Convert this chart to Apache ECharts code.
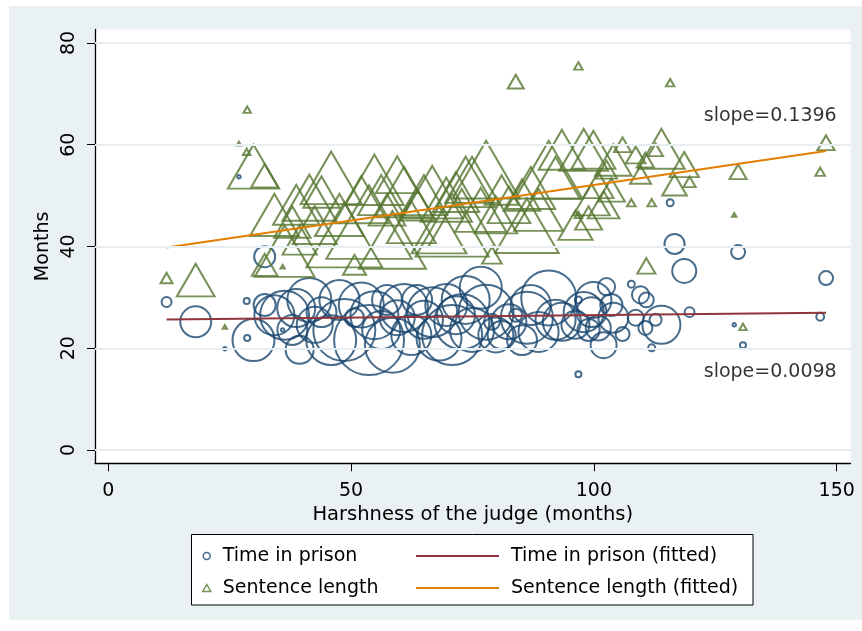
<!DOCTYPE html>
<html>
<head>
<meta charset="utf-8">
<script src="https://cdn.jsdelivr.net/npm/echarts@6/dist/echarts.min.js"></script>
<style>
  html, body { margin: 0; padding: 0; background: #ffffff; }
  #chart { width: 862px; height: 631px; }
</style>
</head>
<body>
<div id="chart"></div>
<script>
// One entry per judge: harshness (months), mean time in prison, mean sentence length, number of cases
const harshness = [
  12.0, 18.0, 24.0, 26.9, 28.5, 28.6, 29.9, 32.2, 32.2, 34.2,
  35.9, 36.3, 37.9, 38.7, 39.4, 41.4, 42.5, 43.9, 45.9, 47.6, 48.6,
  50.7, 52.1, 53.7, 54.8, 56.2, 57.4, 58.5, 59.5, 60.9, 62.4,
  63.6, 65.0, 66.7, 68.1, 69.6, 70.8, 71.6, 72.8, 73.6, 74.9,
  76.7, 77.8, 79.0, 79.8, 81.0, 82.5, 83.9, 85.2, 86.2, 87.0,
  88.6, 90.7, 92.1, 93.4, 96.2, 96.8, 96.8, 97.9, 98.9, 99.5,
  99.9, 100.9, 102.0, 102.6, 103.6, 104.0, 105.9, 107.7, 108.6, 109.6,
  110.6, 110.8, 111.9, 112.7, 113.9, 115.7, 116.6, 118.6, 119.7, 128.9,
  129.7, 130.7, 146.6, 147.8
];
const prisonMonths = [
  29.1, 25.2, 19.9, 53.7, 29.3, 22.0, 21.6, 38.0, 28.5, 26.5,
  23.6, 26.5, 23.6, 27.9, 19.7, 29.5, 24.6, 27.1, 21.6, 29.5, 23.6,
  26.0, 28.5, 21.6, 26.5, 23.6, 29.5, 20.6, 26.0, 27.9, 22.6,
  29.5, 25.6, 27.1, 22.0, 28.5, 22.6, 26.5, 25.2, 29.5, 23.6,
  31.9, 27.1, 25.2, 22.6, 22.6, 25.2, 26.5, 21.6, 26.0, 28.5,
  23.2, 29.9, 25.6, 25.2, 24.6, 29.5, 14.9, 27.1, 23.6, 27.1,
  29.5, 24.0, 20.6, 32.1, 28.5, 26.0, 22.8, 32.6, 26.0, 30.5,
  24.0, 29.5, 20.1, 25.6, 24.6, 48.6, 40.5, 35.2, 27.1, 24.6,
  38.9, 20.6, 26.2, 33.8
];
const sentenceMonths = [
  33.8, 33.4, 24.2, 60.2, 58.6, 66.9, 55.7, 36.4, 53.9, 46.2,
  36.0, 39.1, 44.8, 48.2, 41.3, 49.6, 44.2, 50.7, 53.5, 46.2, 42.3,
  36.4, 49.2, 44.8, 53.1, 50.1, 47.2, 41.3, 54.1, 50.7, 44.8,
  48.2, 50.1, 50.7, 43.3, 49.2, 44.2, 50.7, 45.6, 52.7, 53.1,
  47.2, 55.1, 38.3, 46.2, 51.1, 48.2, 72.4, 50.1, 44.1, 51.5,
  47.2, 55.1, 53.5, 59.0, 44.2, 75.5, 46.2, 59.0, 45.6, 49.2,
  59.0, 52.1, 48.2, 55.1, 51.1, 57.0, 60.0, 48.6, 58.0, 54.1,
  57.0, 36.2, 48.6, 59.0, 59.2, 72.2, 52.1, 56.1, 52.7, 46.2,
  54.7, 24.2, 54.7, 60.4
];
const cases = [
  8, 78, 1, 1, 3, 3, 144, 36, 40, 131,
  1, 196, 73, 118, 64, 158, 106, 73, 204, 131, 314,
  29, 165, 400, 188, 118, 73, 247, 100, 188, 131,
  73, 118, 204, 165, 144, 294, 118, 247, 188, 158,
  144, 247, 21, 100, 64, 100, 14, 73, 221, 131,
  131, 247, 131, 118, 64, 4, 3, 131, 40, 73,
  106, 51, 55, 24, 40, 73, 16, 4, 21, 24,
  16, 18, 4, 12, 118, 4, 33, 47, 8, 1,
  16, 3, 5, 16
];

const xTicks = [0, 50, 100, 150];
const yTicks = [0, 20, 40, 60, 80];

// Linear fits (intercept, slope) shown on the plot
const prisonFit = { intercept: 25.55, slope: 0.0098 };
const sentenceFit = { intercept: 38.15, slope: 0.1396 };
// Anchor (right end) of each slope note, in data units
const sentenceNoteAt = [150, 65.7];
const prisonNoteAt = [150, 15.3];

const NAVY = '#1a476f', GREEN = '#55752f', MAROON = '#90353b', ORANGE = '#e37e00';
const FONT = 'DejaVu Sans';

// marker diameter grows with the square root of the case count
const diameter = n => 3.5 * Math.sqrt(n);

const prisonPts = harshness.map((x, i) => [x, prisonMonths[i], cases[i]]);
const sentencePts = harshness.map((x, i) => [x, sentenceMonths[i], cases[i]]);

const xLo = Math.min(...harshness), xHi = Math.max(...harshness);
const fitLine = f => [[xLo, f.intercept + f.slope * xLo], [xHi, f.intercept + f.slope * xHi]];

const chart = echarts.init(document.getElementById('chart'), null, { renderer: 'canvas' });

chart.setOption({
  animation: false,
  textStyle: { fontFamily: FONT },
  graphic: [
    { type: 'rect', z: -10, shape: { x: 9, y: 6, width: 853, height: 614 },
      style: { fill: '#EAF1F3' }, silent: true },
    { type: 'rect', z: 1, shape: { x: 191.5, y: 534.5, width: 561.5, height: 70.5 },
      style: { fill: '#ffffff', stroke: '#000000', lineWidth: 1 }, silent: true }
  ],
  grid: {
    left: 95, right: 11.5, top: 29.5, bottom: 167.7,
    show: true, backgroundColor: '#ffffff', borderWidth: 0
  },
  xAxis: {
    type: 'value', min: -2.74, max: 152.84,
    name: 'Harshness of the judge (months)', nameLocation: 'middle', nameGap: 34,
    nameTextStyle: { fontFamily: FONT, fontSize: 19.5, color: '#000' },
    axisLine: { show: true, onZero: false, lineStyle: { color: '#000', width: 1.3 } },
    axisTick: { show: true, length: 8, customValues: xTicks, lineStyle: { color: '#000', width: 1 } },
    axisLabel: { customValues: xTicks, margin: 18, fontFamily: FONT, fontSize: 19, color: '#000' },
    splitLine: { show: false }
  },
  yAxis: {
    type: 'value', min: -2.61, max: 82.65,
    name: 'Months', nameLocation: 'middle', nameGap: 32,
    nameTextStyle: { fontFamily: FONT, fontSize: 19, color: '#000' },
    axisLine: { show: true, onZero: false, lineStyle: { color: '#000', width: 1.3 } },
    axisTick: { show: true, length: 8, customValues: yTicks, lineStyle: { color: '#000', width: 1 } },
    axisLabel: { customValues: yTicks, rotate: 90, margin: 16, align: 'center', verticalAlign: 'bottom',
                 fontFamily: FONT, fontSize: 19, color: '#000' },
    splitLine: { show: false }
  },
  legend: [
    {
      orient: 'vertical', left: 197, top: 541, itemWidth: 8, itemHeight: 7, itemGap: 12,
      selectedMode: false,
      textStyle: { fontFamily: FONT, fontSize: 19, color: '#000', lineHeight: 20, padding: [0, 0, 0, 7] },
      data: [
        { name: 'Time in prison', icon: 'circle',
          itemStyle: { color: 'rgba(0,0,0,0)', borderColor: NAVY, borderWidth: 1.5 } },
        { name: 'Sentence length', icon: 'triangle',
          itemStyle: { color: 'rgba(0,0,0,0)', borderColor: GREEN, borderWidth: 1.5 } }
      ]
    },
    {
      orient: 'vertical', left: 411, top: 541, itemWidth: 83, itemHeight: 2, itemGap: 12,
      selectedMode: false,
      textStyle: { fontFamily: FONT, fontSize: 19, color: '#000', lineHeight: 20, padding: [0, 0, 0, 7] },
      data: [
        { name: 'Time in prison (fitted)', icon: 'rect', itemStyle: { color: MAROON } },
        { name: 'Sentence length (fitted)', icon: 'rect', itemStyle: { color: ORANGE } }
      ]
    }
  ],
  series: [
    {
      name: 'gridlines', type: 'line', data: [], silent: true, z: 1,
      markLine: {
        silent: true, symbol: ['none', 'none'], label: { show: false },
        lineStyle: { color: '#E6EEF1', width: 2, type: 'solid' },
        data: yTicks.map(v => ({ yAxis: v }))
      }
    },
    {
      name: 'Time in prison', type: 'scatter', data: prisonPts, silent: true, z: 2,
      symbol: 'circle',
      symbolSize: v => diameter(v[2]),
      itemStyle: { color: 'rgba(0,0,0,0)', borderColor: NAVY, borderWidth: 2 }
    },
    {
      name: 'Sentence length', type: 'scatter', data: sentencePts, silent: true, z: 3,
      symbol: 'triangle',
      symbolSize: v => { const d = diameter(v[2]); return [1.22 * d, 1.05 * d]; },
      itemStyle: { color: 'rgba(0,0,0,0)', borderColor: GREEN, borderWidth: 2 }
    },
    {
      name: 'Time in prison (fitted)', type: 'line', data: fitLine(prisonFit), silent: true, z: 4,
      symbol: 'none', lineStyle: { color: MAROON, width: 2 }, itemStyle: { color: MAROON }
    },
    {
      name: 'Sentence length (fitted)', type: 'line', data: fitLine(sentenceFit), silent: true, z: 4,
      symbol: 'none', lineStyle: { color: ORANGE, width: 2 }, itemStyle: { color: ORANGE }
    },
    {
      name: 'notes', type: 'scatter', silent: true, z: 5, symbolSize: 0,
      data: [
        { value: sentenceNoteAt, note: 'slope=' + sentenceFit.slope.toFixed(4) },
        { value: prisonNoteAt, note: 'slope=' + prisonFit.slope.toFixed(4) }
      ],
      label: {
        show: true, position: 'left', distance: 0,
        formatter: p => p.data.note,
        fontFamily: FONT, fontSize: 19, color: '#000'
      }
    }
  ]
});
</script>
</body>
</html>
